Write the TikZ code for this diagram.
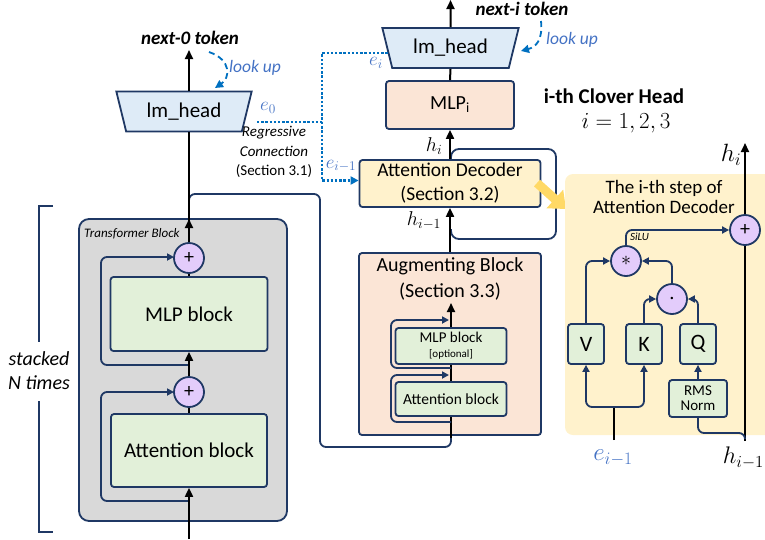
\RequirePackage{fix-cm}
\documentclass[tikz,border=0pt]{standalone}
\usepackage{fontspec}
\setmainfont{Carlito}
\usetikzlibrary{shapes.geometric,arrows.meta,calc}
\definecolor{navy}{HTML}{1F3864}
\definecolor{lblue}{HTML}{DEEBF7}
\definecolor{salmon}{HTML}{FBE5D6}
\definecolor{cyel}{HTML}{FFF2CC}
\definecolor{cgreen}{HTML}{E2F0D9}
\definecolor{cgray}{HTML}{D9D9D9}
\definecolor{lav}{HTML}{E3CCFB}
\definecolor{dblue}{HTML}{0070C0}
\definecolor{tblue}{HTML}{4472C4}
\definecolor{yarrow}{HTML}{FFD966}
\newcommand{\myfs}[2]{\fontsize{#1}{#2}\selectfont}
\begin{document}
\begin{tikzpicture}[x=1pt,y=-1pt,
  box/.style={draw=navy,line width=1.8pt,rounded corners=3pt,inner sep=0pt,align=center},
  gbox/.style={box,fill=cgreen},
  circ/.style={circle,draw=navy,line width=1.8pt,fill=lav,minimum size=30pt,inner sep=0pt,font=\myfs{20}{20}},
  trap/.style={trapezium,shape border rotate=180,trapezium angle=70,trapezium stretches=true,
     minimum width=136pt,minimum height=40pt,draw=navy,line width=1.8pt,fill=lblue,inner sep=0pt,font=\myfs{21}{21}},
  main/.style={line width=2pt,black},
  marr/.style={main,-{Triangle[length=9pt,width=8pt]}},
  nav/.style={line width=1.8pt,navy,rounded corners=6pt},
  narr/.style={nav,-{Triangle[length=7pt,width=7pt]}},
  dotb/.style={draw=dblue,dash pattern=on 2.4pt off 1.8pt,line width=2.4pt},
  dashb/.style={draw=dblue,dash pattern=on 6pt off 4pt,line width=1.8pt},
  lbl/.style={inner sep=0pt,align=center}
]
\useasboundingbox (0,0) rectangle (765,539);

% ---------------- left column ----------------
\node[box,fill=cgray,rounded corners=10pt,minimum width=208pt,minimum height=302pt] (tb) at (183,370) {};
\node[lbl,anchor=west,font=\myfs{13}{15}\itshape] (tbt) at (84,234) {Transformer Block};

% branch to augmenting block
\draw[nav] (189,206) -- (189,194) -- (320,194) -- (320,447) -- (451,447) -- (451,438);

% residual loops
\draw[narr] (189,365) -- (101,365) -- (101,257) -- (174,257);
\draw[narr] (189,501) -- (101,501) -- (101,392) -- (174,392);

\node[gbox,minimum width=157pt,minimum height=74pt,font=\myfs{21}{21}] (mlp) at (189,314) {MLP block};
\node[gbox,minimum width=156pt,minimum height=73pt,font=\myfs{21}{21}] (attn) at (189,450.5) {Attention block};
\node[circ] (p1) at (189,258) {+};
\node[circ] (p2) at (189,392) {+};

\node[trap] (lm0) at (184,111.5) {lm\_head};
\coordinate (c0) at (189,0);
\node[lbl,font=\myfs{19}{19}\bfseries\itshape] (t0) at (190,38) {next-0 token};

\draw[marr] (189,539) -- (attn.south);
\draw[main] (attn.north) -- (p2.south);
\draw[marr] (p2.north) -- (mlp.south);
\draw[main] (mlp.north) -- (p1.south);
\draw[marr] (p1.north) -- (189,219);
\draw[main] (189,221) -- (lm0.south -| c0);
\draw[marr] (lm0.north -| c0) -- (189,50);

% look up (left)
\draw[dashb,-{Triangle[length=8pt,width=8pt]}] (209,52) .. controls (232,60) and (230,78) .. (215,88);
\node[lbl,text=tblue,font=\myfs{17.5}{17.5}\itshape] (lu0) at (255,68) {look up};

% bracket
\draw[navy,line width=1.5pt] (53,206) -- (39,206) -- (39,342);
\draw[navy,line width=1.5pt] (39,401) -- (39,532) -- (53,532);
\node[lbl,font=\myfs{20}{24}\itshape] (stk) at (39,371) {stacked\\N times};

% regressive connection
\node[lbl,text=tblue,font=\myfs{19}{19}] (e0) at (268,108) {$e_0$};
\node[lbl,font=\myfs{15}{19.5}] (reg) at (274,152) {\itshape Regressive\\\itshape Connection\\(Section 3.1)};
\node[lbl,text=tblue,font=\myfs{19}{19}] (eim) at (341,166) {$e_{i-1}$};
\node[lbl,text=tblue,font=\myfs{19}{19}] (ei) at (376,63) {$e_i$};

% ---------------- middle column ----------------
\node[box,fill=salmon,minimum width=182pt,minimum height=182pt] (aug) at (450,344) {};
\node[lbl,font=\myfs{20}{26}] (augt) at (450,279) {Augmenting Block\\(Section 3.3)};
\draw[marr] (451,438) -- (451,303);
\draw[narr] (451,368) -- (391,368) -- (391,320) -- (449,320);
\draw[narr] (451,422) -- (391,422) -- (391,375) -- (449,375);
\node[gbox,minimum width=111pt,minimum height=36pt,font=\myfs{15}{16}] (imlp) at (451,346) {MLP block\\[-1pt]{\myfs{11}{11}[optional]}};
\node[gbox,minimum width=111pt,minimum height=34pt,font=\myfs{15.5}{16}] (iattn) at (451,399) {Attention block};

% loop around attention decoder
\draw[nav,rounded corners=8pt] (451,229) -- (451,239) -- (556,239) -- (556,149) -- (451,149) -- (451,160);

\node[box,fill=cyel,minimum width=181pt,minimum height=47pt,font=\myfs{19.5}{24}] (ad) at (450,183.5) {Attention Decoder\\(Section 3.2)};
\node[box,fill=salmon,minimum width=128pt,minimum height=48pt,font=\myfs{20}{20}] (mlpi) at (450,105) {MLP\textsubscript{i}};
\node[trap,minimum width=137pt] (lm1) at (450.5,48) {lm\_head};
\node[lbl,font=\myfs{19}{19}\bfseries\itshape] (t1) at (522,9) {next-i token};

\draw[marr] (aug.north) -- (ad.south);
\draw[marr] (ad.north) -- (mlpi.south);
\draw[main] (mlpi.north) -- (lm1.south);
\draw[marr] (lm1.north) -- (450.5,0);

\node[lbl,font=\myfs{20}{20}] (hi) at (434,146) {$h_i$};
\node[lbl,font=\myfs{20}{20}] (him) at (424,221) {$h_{i-1}$};

% look up (right)
\draw[dashb,-{Triangle[length=8pt,width=8pt]}] (541,21) .. controls (543,40) and (536,47) .. (521,51);
\node[lbl,text=tblue,font=\myfs{17.5}{17.5}\itshape] (lu1) at (572,40) {look up};

% regressive dotted connection
\coordinate (r0) at (257,122);
\coordinate (rj) at (322,122);
\coordinate (r1) at (388,53);
\draw[dotb] (r0) -- (rj) |- (r1);
\draw[dotb,-{Triangle[length=8pt,width=8pt]}] (rj) |- ($(ad.west)+(0,-3)$);

% clover head title
\node[lbl,font=\myfs{21}{21}\bfseries] (cht) at (614,96) {i-th Clover Head};
\node[lbl,font=\myfs{23}{23}] (chi) at (626,123) {$i=1,2,3$};

% yellow arrow
\draw[line width=9pt,yarrow,-{Triangle[length=15pt,width=24pt]}] (537,183) -- (566,209);

% ---------------- right panel ----------------
\node[fill=cyel,rounded corners=8pt,minimum width=225pt,minimum height=261pt,inner sep=0pt] (panel) at (677.5,304.5) {};
\node[lbl,font=\myfs{19}{19.5}] (pt) at (664,197) {The i-th step of\\Attention Decoder};

\node[circ] (pr) at (745,230) {+};
\node[circ] (ps) at (626,261) {$\ast$};
\node[circ] (pd) at (672,299) {\myfs{24}{24}$\cdot$};
\node[gbox,minimum width=36pt,minimum height=40pt,font=\myfs{22}{22}] (V) at (586,344) {V};
\node[gbox,minimum width=36pt,minimum height=40pt,font=\myfs{22}{22}] (K) at (644,344) {K};
\node[gbox,minimum width=36pt,minimum height=40pt,font=\myfs{22}{22}] (Q) at (698,344) {Q};
\node[gbox,minimum width=58pt,minimum height=37pt,font=\myfs{15}{15}] (rms) at (698,398.5) {RMS\\Norm};

\draw[main] (745,441) -- (pr.south);
\draw[marr] (pr.north) -- (745,143);
\draw[narr] (ps.north) |- (pr.west);
\node[lbl,font=\myfs{11}{11}\itshape,anchor=west] (silu) at (630,237) {SiLU};
\draw[narr] (V.north) |- (ps.west);
\draw[narr] (pd.north) |- (ps.east);
\draw[narr] (K.north) |- (pd.west);
\draw[narr] (Q.north) |- (pd.east);
\draw[narr] (rms.north) -- (Q.south);
\draw[nav] (745,438) -- (745,433) -- (698,433) -- (rms.south);
\draw[main] (614,440) -- (614,407);
\draw[narr] (614,407) -| (V.south);
\draw[narr] (614,407) -| (K.south);

\node[lbl,text=tblue,font=\myfs{25}{25}] (eimr) at (613,458) {$e_{i-1}$};
\node[lbl,font=\myfs{24}{24},anchor=east] (himr) at (764,458) {$h_{i-1}$};
\node[lbl,font=\myfs{25}{25}] (hir) at (731,155) {$h_i$};
\end{tikzpicture}
\end{document}
